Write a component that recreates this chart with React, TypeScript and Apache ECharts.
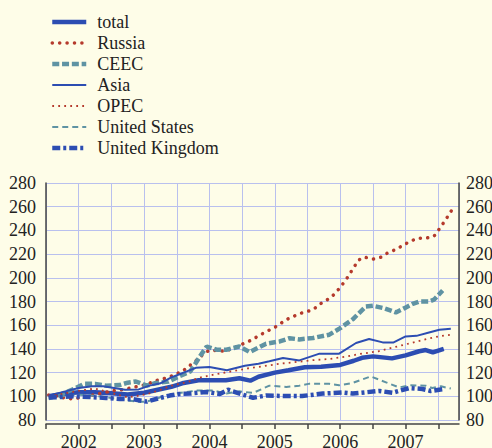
import React, { useEffect, useRef } from "react";
import * as echarts from "echarts";

// x = months since start of Jan 2002 (mid-month points), y = index value
const total: [number, number][] = [
  [0.5, 100], [3, 102], [6, 103.5], [9, 103.5], [12, 102.5], [15, 101.5], [18, 103], [20.5, 105.5],
  [23, 108], [25, 111], [28, 113.5], [31, 113.5], [33, 113.5], [35.5, 115.2], [37.5, 113.2],
  [39, 116.5], [42, 120], [44.5, 122], [47.5, 124.5], [50.5, 125], [54, 126.5], [56.5, 130],
  [58, 132.5], [60, 133.7], [63.5, 132], [66, 134.5], [68.5, 138], [69.7, 139], [71, 137], [73, 140],
];
const russia: [number, number][] = [
  [0.5, 101], [2, 100], [3.5, 98.5], [5, 97.8], [6.5, 99], [8, 100.5], [9.5, 102], [11, 103.5],
  [12.5, 104.8], [14, 105.6], [15.5, 107], [17, 108.5], [18.5, 110], [20, 113], [22.5, 116],
  [25, 121], [27.5, 130], [29, 136], [30, 139], [31.5, 138.5], [33, 138], [35.5, 143], [37.5, 147],
  [40, 153.5], [42.5, 159.5], [44, 164.5], [46.5, 169.7], [49, 173], [50.5, 178.5], [52, 182.5],
  [53, 186.5], [54, 192], [55, 198], [55.7, 203], [56.6, 209.5], [57.4, 215], [58.4, 217.5],
  [60, 215.7], [61.5, 217.4], [62.7, 221], [64.2, 224], [65.4, 227], [66.7, 230.5], [68.2, 233.4],
  [69.7, 233.4], [71.2, 235], [72, 240], [72.9, 246], [73.7, 251.5], [74.6, 258],
];
const ceec: [number, number][] = [
  [0.5, 98.5], [3, 102], [5.5, 107], [7, 110.5], [9, 110.5], [11, 109], [13.5, 109.5], [15, 111.5],
  [16.5, 112.5], [18.5, 109], [20, 111], [22.5, 112.5], [24.5, 117], [26.5, 121], [28.3, 134],
  [29.5, 142], [31.3, 139.3], [33.1, 139.3], [35.5, 142], [37.4, 137.3], [40.4, 144.4],
  [42.9, 146.3], [44.7, 149], [46.5, 148], [49, 149.2], [52, 152], [54, 157.5], [56.3, 165],
  [58.7, 175.8], [60, 176.4], [62, 174.4], [64.2, 170.8], [65.8, 174.4], [67.3, 178], [68.5, 180],
  [70.3, 180], [71.2, 181.5], [72.8, 189.3],
];
const asia: [number, number][] = [
  [0.5, 100.5], [3, 103.5], [6, 107], [8.5, 108.4], [10.5, 108.4], [12.5, 107], [14.5, 105.5],
  [17, 105.8], [19, 109], [21, 111], [23, 116], [25, 119.5], [27.5, 124], [30, 124.8], [33.2, 122],
  [36.5, 125.8], [39, 127.5], [41, 129.5], [43.5, 132.3], [46.5, 130.3], [50.2, 136], [53.8, 136],
  [56.9, 145], [59.3, 148.4], [61.8, 145.5], [63.8, 145.5], [66, 150.5], [68, 151], [70.3, 153.9],
  [72.2, 156.2], [74.3, 157],
];
const opec: [number, number][] = [
  [0.5, 100], [3, 102], [6.5, 105], [9, 106.5], [11, 104], [13, 101.5], [15, 99], [17, 100.5],
  [19, 102.5], [21, 105.5], [23, 109], [26, 112], [28, 115.5], [31, 118.5], [34, 121], [37, 123.5],
  [40, 125.5], [43, 127.5], [46, 129], [49, 130.5], [52, 131.5], [55, 133.5], [58, 136], [61, 138],
  [64, 141.5], [67, 145], [70, 148.5], [72, 150.5], [74.5, 152],
];
const unitedStates: [number, number][] = [
  [0.5, 98], [3, 100], [6, 101.4], [9, 100.5], [12, 98.6], [14.8, 96.5], [17, 95.5], [18.5, 95.5],
  [20.6, 98.6], [22.5, 101], [24.5, 102.8], [27.6, 104.8], [30.6, 105], [33.1, 102.3], [35.5, 104.2],
  [38, 102.8], [41, 109], [44.1, 107.9], [46.5, 109], [48.4, 110.7], [52, 110.5], [53.8, 109.3],
  [56.3, 111.3], [59.6, 116.8], [62.4, 111.8], [64.8, 107.5], [66.7, 109.3], [69.7, 109], [70.9, 107],
  [72.5, 108.4], [74.3, 106.5],
];
const unitedKingdom: [number, number][] = [
  [0.5, 99], [3, 99.5], [5, 100], [8, 99.4], [11, 98.6], [13.6, 97.8], [16, 97.5], [18.5, 95.5],
  [20.9, 98.6], [22.7, 100.6], [24.5, 102], [26.4, 102.3], [29.4, 103.7], [31.9, 102], [33.4, 105.6],
  [36.1, 101.4], [38, 98.8], [40.4, 100.6], [43.5, 100.3], [47, 100.2], [50.8, 102.3], [54.5, 103.2],
  [56.3, 102.3], [58.7, 103.4], [61.2, 104.5], [63.6, 103], [66.7, 107], [69.1, 106.2], [70.6, 104.5],
  [72.9, 106],
];
const firstYear = 2002;
const yTicks = { min: 80, max: 280, step: 20 };

const BLUE = "#2c4db2";
const RED = "#b53a2c";
const TEAL = "#5f93a3";
const FONT = "Liberation Serif";

type Style = { name: string; data: [number, number][]; color: string; width: number; type: any; cap?: any };
const styles: Style[] = [
  { name: "total", data: total, color: BLUE, width: 4.5, type: "solid" },
  { name: "Russia", data: russia, color: RED, width: 3.5, type: [0.1, 7.3], cap: "round" },
  { name: "CEEC", data: ceec, color: TEAL, width: 4.5, type: [7, 2.8] },
  { name: "Asia", data: asia, color: BLUE, width: 2, type: "solid" },
  { name: "OPEC", data: opec, color: RED, width: 1.8, type: [1.8, 4.2] },
  { name: "United States", data: unitedStates, color: TEAL, width: 2, type: [6, 4] },
  { name: "United Kingdom", data: unitedKingdom, color: BLUE, width: 4.5, type: [8, 3, 3, 3] },
];

export default function App() {
  const ref = useRef<HTMLDivElement>(null);
  useEffect(() => {
    if (!ref.current) return;
    const chart = echarts.init(ref.current, undefined, { renderer: "svg" });
    const yAxisBase = (position: "left" | "right") => ({
      type: "value",
      position,
      min: yTicks.min,
      max: yTicks.max,
      interval: yTicks.step,
      axisLine: { show: true, lineStyle: { color: "#444", width: 1.5 } },
      axisTick: { show: false },
      axisLabel: {
        fontFamily: FONT,
        fontSize: 18,
        color: "#222",
        margin: position === "left" ? 10 : 7,
      },
      splitLine: { show: position === "left", lineStyle: { color: "#b9c0ee", width: 1 } },
    });
    chart.setOption({
      animation: false,
      backgroundColor: "#fefde8",
      grid: { left: 46, right: 33, top: 183, bottom: 28, containLabel: false, outerBoundsMode: "none" },
      legend: {
        orient: "vertical",
        left: 45,
        top: 8,
        itemWidth: 34,
        itemHeight: 14,
        itemGap: 3,
        itemStyle: { opacity: 0 },
        textStyle: { fontFamily: FONT, fontSize: 18, color: "#222", lineHeight: 18, padding: [0, 0, 0, 6] },
        data: styles.map((s) => ({
          name: s.name,
          itemStyle: { opacity: 0 },
          lineStyle: { color: s.color, width: s.width, type: s.type, cap: s.cap || "butt" },
        })),
      },
      xAxis: {
        type: "value",
        min: 0,
        max: 75.8,
        interval: 6,
        offset: 4,
        axisLine: { show: true, onZero: false, lineStyle: { color: "#444", width: 1.5 } },
        axisTick: { show: true, inside: false, length: 5, lineStyle: { color: "#444", width: 1.5 } },
        axisLabel: {
          fontFamily: FONT,
          fontSize: 18,
          color: "#222",
          margin: 9,
          showMaxLabel: false,
          formatter: (v: number) => (v % 12 === 6 ? String(firstYear + (v - 6) / 12) : ""),
        },
        splitLine: { show: true, lineStyle: { color: "#b9c0ee", width: 1 } },
      },
      yAxis: [yAxisBase("left"), yAxisBase("right")],
      series: styles.map((s) => ({
        name: s.name,
        type: "line",
        data: s.data,
        symbol: "none",
        lineStyle: { color: s.color, width: s.width, type: s.type, cap: s.cap || "butt" },
        itemStyle: { color: s.color },
      })),
    });
    return () => chart.dispose();
  }, []);
  return (
    <div style={{ position: "fixed", left: 0, top: 0, width: 492, height: 448, background: "#fefde8" }}>
      <div ref={ref} style={{ width: 492, height: 448 }} />
    </div>
  );
}
